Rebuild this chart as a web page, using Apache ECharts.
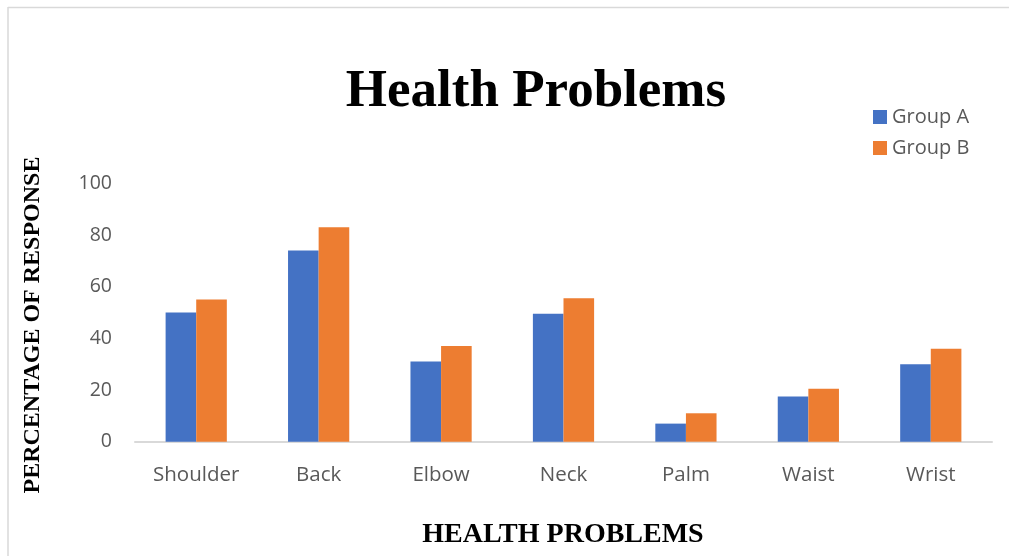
<!DOCTYPE html>
<html>
<head>
<meta charset="utf-8">
<script src="https://cdn.jsdelivr.net/npm/echarts@6/dist/echarts.min.js"></script>
<style>html,body{margin:0;padding:0;background:#fff}#c{width:1009px;height:556px}</style>
</head>
<body>
<div id="c"></div>
<script>
const categories = ['Shoulder', 'Back', 'Elbow', 'Neck', 'Palm', 'Waist', 'Wrist'];
const groupA = [50, 74, 31, 49.5, 7, 17.5, 30];
const groupB = [55, 83, 37, 55.5, 11, 20.5, 36];
const seriesNames = ['Group A', 'Group B'];
const yTicks = { min: 0, max: 100, interval: 20 };

const chart = echarts.init(document.getElementById('c'));
chart.setOption({
  backgroundColor: '#fff',
  animation: false,
  graphic: [
    { type: 'line', shape: { x1: 8, y1: 7.5, x2: 1009, y2: 7.5 }, style: { stroke: '#d9d9d9', lineWidth: 1.5 } },
    { type: 'line', shape: { x1: 8, y1: 7, x2: 8, y2: 556 }, style: { stroke: '#d9d9d9', lineWidth: 1.5 } },
    { type: 'text', x: 536, y: 92, style: { text: 'Health Problems', font: 'bold 53px "Liberation Serif"', fill: '#000', textAlign: 'center', textVerticalAlign: 'middle' } },
    { type: 'text', x: 33, y: 325, rotation: Math.PI / 2, style: { text: 'PERCENTAGE OF RESPONSE', font: 'bold 24px "Liberation Serif"', fill: '#000', textAlign: 'center', textVerticalAlign: 'middle' } },
    { type: 'text', x: 563, y: 535, style: { text: 'HEALTH PROBLEMS', font: 'bold 28px "Liberation Serif"', fill: '#000', textAlign: 'center', textVerticalAlign: 'middle' } }
  ],
  legend: {
    orient: 'vertical',
    left: 868, top: 102,
    itemWidth: 14, itemHeight: 14, itemGap: 11,
    icon: 'rect',
    textStyle: { fontFamily: 'Open Sans', fontSize: 20, color: '#595959', padding: [0, 0, 0, 0] },
    data: seriesNames
  },
  grid: { left: 135, right: 17, top: 183.3, bottom: 114.3 },
  xAxis: {
    type: 'category',
    data: categories,
    axisLine: { lineStyle: { color: '#d9d9d9', width: 2 } },
    axisTick: { show: false },
    axisLabel: { color: '#595959', fontFamily: 'Open Sans', fontSize: 20.5, margin: 23 }
  },
  yAxis: {
    type: 'value',
    min: yTicks.min, max: yTicks.max, interval: yTicks.interval,
    axisLine: { show: false },
    axisTick: { show: false },
    splitLine: { show: false },
    axisLabel: { color: '#595959', fontFamily: 'Open Sans', fontSize: 19.5, margin: 23 }
  },
  series: [
    { name: seriesNames[0], type: 'bar', data: groupA, itemStyle: { color: '#4472C4' }, barGap: '0%', barCategoryGap: '50%' },
    { name: seriesNames[1], type: 'bar', data: groupB, itemStyle: { color: '#ED7D31' }, barGap: '0%', barCategoryGap: '50%' }
  ]
});
</script>
</body>
</html>
